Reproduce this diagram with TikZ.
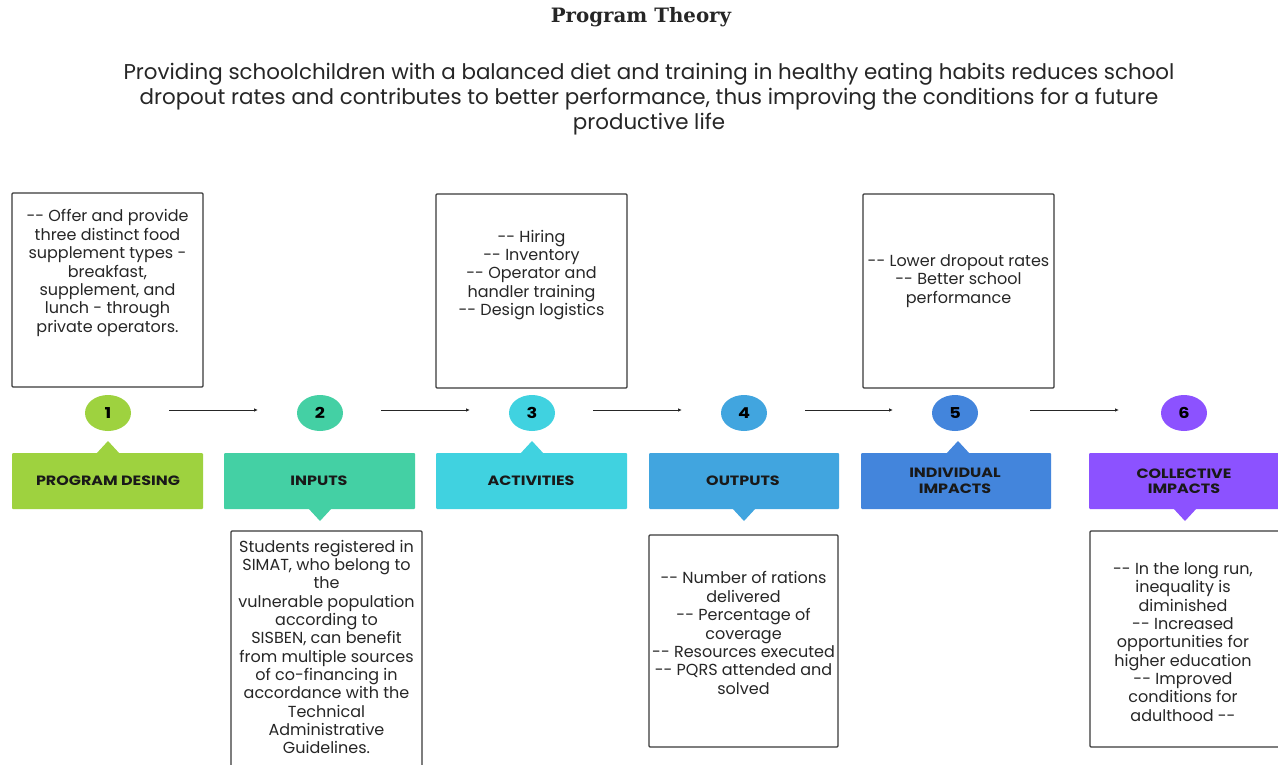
\documentclass[tikz,border=0pt]{standalone}
\usepackage{fontspec}
\setmainfont{DejaVu Serif}
\newfontfamily\bodyfont{Poppins}
\newfontfamily\labfont{Poppins}[UprightFont=* Bold,FakeStretch=1.18]
\usetikzlibrary{arrows.meta,shapes.geometric}
\definecolor{cA}{HTML}{9ED23F}
\definecolor{cB}{HTML}{44D0A4}
\definecolor{cC}{HTML}{40D2E0}
\definecolor{cD}{HTML}{41A5DF}
\definecolor{cE}{HTML}{4385DC}
\definecolor{cF}{HTML}{8C52FF}
\definecolor{edge}{HTML}{3A3A3A}
\tikzset{
  x=1pt,y=-1pt,
  frame/.style={draw=edge,line width=1.2pt,rounded corners=1pt},
  txt/.style={font=\bodyfont\fontsize{16}{18.35}\selectfont,align=center,text=black!85,inner sep=0pt},
  bar/.style={rounded corners=1pt},
  lab/.style={font=\labfont\fontsize{13.5}{15.5}\selectfont,align=center,text=black!90,inner sep=0pt},
  num/.style={ellipse,minimum width=46pt,minimum height=36pt,inner sep=0pt,font=\labfont\fontsize{15}{15}\selectfont},
  arr/.style={draw=black!85,line width=0.9pt,-{Latex[length=4pt,width=3.5pt]}}
}
\begin{document}
\begin{tikzpicture}
\useasboundingbox (0,0) rectangle (1278,765);
\clip (0,0) rectangle (1278,765);
\fill[white] (0,0) rectangle (1278,765);
% title
\node[font=\bfseries\fontsize{19.8}{22}\selectfont,text=black!85] (title) at (641,17) {Program Theory};
\node[font=\bodyfont\fontsize{21.4}{25}\selectfont,align=center,text=black!85] (sub) at (649,99)
 {Providing schoolchildren with a balanced diet and training in healthy eating habits reduces school\\
  dropout rates and contributes to better performance, thus improving the conditions for a future\\
  productive life};
% top boxes
\draw[frame] (12,193) rectangle (203,387);
\node[txt] (t1) at (107.5,273) {-- Offer and provide\\three distinct food\\supplement types -\\breakfast,\\supplement, and\\lunch - through\\private operators.};
\draw[frame] (436,194) rectangle (627,388);
\node[txt] (t3) at (531.5,275) {-- Hiring\\-- Inventory\\-- Operator and\\handler training\\-- Design logistics};
\draw[frame] (863,194) rectangle (1054,388);
\node[txt] (t5) at (958.5,281) {-- Lower dropout rates\\-- Better school\\performance};
% bottom boxes
\draw[frame] (231,531) rectangle (422,775);
\node[txt] (t2) at (326.5,647) {Students registered in\\SIMAT, who belong to\\the\\vulnerable population\\according to\\SISBEN, can benefit\\from multiple sources\\of co-financing in\\accordance with the\\Technical\\Administrative\\Guidelines.};
\draw[frame] (649,535) rectangle (838,747);
\node[txt] (t4) at (743.5,633) {-- Number of rations\\delivered\\-- Percentage of\\coverage\\-- Resources executed\\-- PQRS attended and\\solved};
\draw[frame] (1090,531) rectangle (1290,747);
\node[txt] (t6) at (1183,642) {-- In the long run,\\inequality is\\diminished\\-- Increased\\opportunities for\\higher education\\-- Improved\\conditions for\\adulthood --};
% label bars
\fill[cA,bar] (12,453) rectangle (203,509);
\fill[cA] (96,454) -- (108,441) -- (120,454) -- cycle;
\node[lab] (l1) at (108,481) {PROGRAM DESING};
\fill[cB,bar] (224,453) rectangle (415,509);
\fill[cB] (308,508) -- (320,521) -- (332,508) -- cycle;
\node[lab] (l2) at (319,481) {INPUTS};
\fill[cC,bar] (436,453) rectangle (627,509);
\fill[cC] (520,454) -- (532,441) -- (544,454) -- cycle;
\node[lab] (l3) at (531,481) {ACTIVITIES};
\fill[cD,bar] (649,453) rectangle (839,509);
\fill[cD] (732,508) -- (744,521) -- (756,508) -- cycle;
\node[lab] (l4) at (743,481) {OUTPUTS};
\fill[cE,bar] (861,453) rectangle (1051,509);
\fill[cE] (946,454) -- (958,441) -- (970,454) -- cycle;
\node[lab] (l5) at (955,481) {INDIVIDUAL\\IMPACTS};
\fill[cF,bar] (1089,453) rectangle (1290,509);
\fill[cF] (1173,508) -- (1185,521) -- (1197,508) -- cycle;
\node[lab] (l6) at (1184,481) {COLLECTIVE\\IMPACTS};
% numbered circles
\node[num,fill=cA] (c1) at (108,413) {1};
\node[num,fill=cB] (c2) at (320,413) {2};
\node[num,fill=cC] (c3) at (532,413) {3};
\node[num,fill=cD] (c4) at (744,413) {4};
\node[num,fill=cE] (c5) at (955,413) {5};
\node[num,fill=cF] (c6) at (1184,413) {6};
% arrows
\draw[arr,shorten <=61pt,shorten >=62pt] ([yshift=3]c1.center) -- ([yshift=3]c2.center);
\draw[arr,shorten <=61pt,shorten >=62pt] ([yshift=3]c2.center) -- ([yshift=3]c3.center);
\draw[arr,shorten <=61pt,shorten >=62pt] ([yshift=3]c3.center) -- ([yshift=3]c4.center);
\draw[arr,shorten <=61pt,shorten >=62pt] ([yshift=3]c4.center) -- ([yshift=3]c5.center);
\draw[arr,shorten <=75pt,shorten >=65pt] ([yshift=3]c5.center) -- ([yshift=3]c6.center);
\end{tikzpicture}
\end{document}
